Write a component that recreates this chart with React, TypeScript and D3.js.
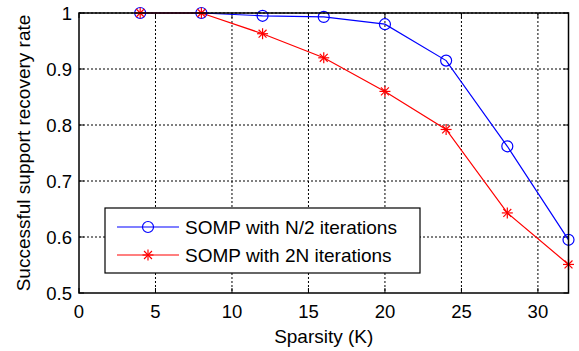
import React from "react";
import * as d3 from "d3";

const sparsity = [4, 8, 12, 16, 20, 24, 28, 32];
const somplHalfN = [1, 1, 0.995, 0.993, 0.98, 0.915, 0.762, 0.595];
const somp2N = [1, 1, 0.963, 0.92, 0.86, 0.792, 0.643, 0.551];
const xTicks = [0, 5, 10, 15, 20, 25, 30];
const yTicks = [0.5, 0.6, 0.7, 0.8, 0.9, 1];
const legendLabels = ["SOMP with N/2 iterations", "SOMP with 2N iterations"];

const W = 579, H = 351;
const L = 79, R = 568.5, T = 13, B = 293;
const font = "Liberation Sans, Arial, sans-serif";
const fs = 19;
const tfs = 18.5;

function Star({ x, y, c }: { x: number; y: number; c: string }) {
  const r = 5.5;
  const d = r * 0.72;
  return (
    <g stroke={c} strokeWidth={1.2}>
      <line x1={x - r} y1={y} x2={x + r} y2={y} />
      <line x1={x} y1={y - r} x2={x} y2={y + r} />
      <line x1={x - d} y1={y - d} x2={x + d} y2={y + d} />
      <line x1={x - d} y1={y + d} x2={x + d} y2={y - d} />
    </g>
  );
}

export default function App() {
  const x = d3.scaleLinear().domain([0, 32]).range([L, R]);
  const y = d3.scaleLinear().domain([0.5, 1]).range([B, T]);
  const line = d3.line<number>().x((_, i) => x(sparsity[i])).y((v) => y(v));
  return (
    <svg width={W} height={H} style={{ position: "absolute", left: 0, top: 0 }}>
      <rect width={W} height={H} fill="white" />
      {xTicks.slice(1).map((t) => (
        <line key={"gx" + t} x1={x(t)} x2={x(t)} y1={T} y2={B} stroke="black" strokeWidth={1} strokeDasharray="2,2" />
      ))}
      {yTicks.slice(1).map((t) => (
        <line key={"gy" + t} x1={L} x2={R} y1={y(t)} y2={y(t)} stroke="black" strokeWidth={1} strokeDasharray="2,2" />
      ))}
      {xTicks.map((t) => (
        <g key={"tx" + t}>
          <line x1={x(t)} x2={x(t)} y1={B} y2={B - 5} stroke="black" />
          <line x1={x(t)} x2={x(t)} y1={T} y2={T + 5} stroke="black" />
          <text x={x(t)} y={B + 25} textAnchor="middle" fontFamily={font} fontSize={tfs}>{t}</text>
        </g>
      ))}
      {yTicks.map((t) => (
        <g key={"ty" + t}>
          <line x1={L} x2={L + 5} y1={y(t)} y2={y(t)} stroke="black" />
          <line x1={R} x2={R - 5} y1={y(t)} y2={y(t)} stroke="black" />
          <text x={L - 7} y={y(t) + 6.5} textAnchor="end" fontFamily={font} fontSize={tfs}>{t}</text>
        </g>
      ))}
      <path d={line(somplHalfN) || ""} fill="none" stroke="#0000ff" strokeWidth={1.2} />
      <path d={line(somp2N) || ""} fill="none" stroke="#ff0000" strokeWidth={1.2} />
      {somplHalfN.map((v, i) => (
        <circle key={"c" + i} cx={x(sparsity[i])} cy={y(v)} r={5.5} fill="none" stroke="#0000ff" strokeWidth={1.2} />
      ))}
      {somp2N.map((v, i) => (
        <Star key={"s" + i} x={x(sparsity[i])} y={y(v)} c="#ff0000" />
      ))}
      <rect x={L} y={T} width={R - L} height={B - T} fill="none" stroke="black" strokeWidth={1.5} />
      <rect x={105} y={208} width={315} height={65} fill="white" stroke="black" strokeWidth={1.2} />
      <line x1={117} x2={179} y1={227} y2={227} stroke="#0000ff" strokeWidth={1.2} />
      <circle cx={148} cy={227} r={5.5} fill="none" stroke="#0000ff" strokeWidth={1.2} />
      <text x={185} y={234} fontFamily={font} fontSize={fs}>{legendLabels[0]}</text>
      <line x1={117} x2={179} y1={255} y2={255} stroke="#ff0000" strokeWidth={1.2} />
      <Star x={148} y={255} c="#ff0000" />
      <text x={185} y={262} fontFamily={font} fontSize={fs}>{legendLabels[1]}</text>
      <text x={(L + R) / 2} y={343} textAnchor="middle" fontFamily={font} fontSize={fs}>Sparsity (K)</text>
      <text transform={`translate(30,${(T + B) / 2}) rotate(-90)`} textAnchor="middle" fontFamily={font} fontSize={fs}>Successful support recovery rate</text>
    </svg>
  );
}
